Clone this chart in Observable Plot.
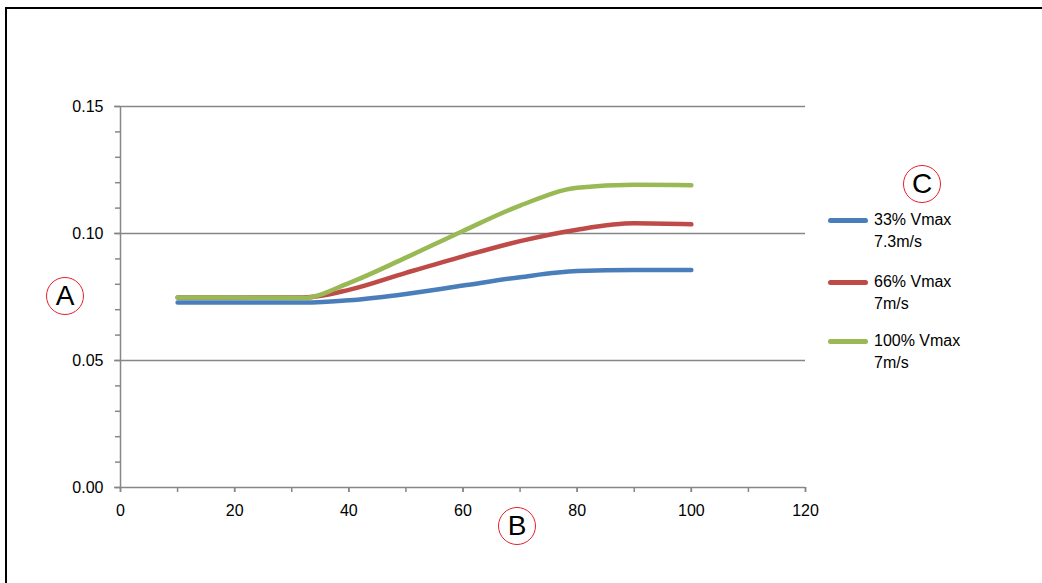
<!DOCTYPE html>
<html>
<head>
<meta charset="utf-8">
<script src="https://cdn.jsdelivr.net/npm/d3@7"></script>
<script src="https://cdn.jsdelivr.net/npm/@observablehq/plot@0.6"></script>
<style>
  html, body { margin: 0; padding: 0; background: #fff; }
  #wrap { position: relative; width: 1042px; height: 583px; overflow: hidden; font-family: "Liberation Sans", Arial, sans-serif; }
  #wrap svg { position: absolute; left: 0; top: 0; }
  .frameTop { position: absolute; left: 5px; top: 7px; width: 1037px; height: 2px; background: #000; }
  .frameLeft { position: absolute; left: 5px; top: 7px; width: 2px; height: 576px; background: #000; }
  .circ { position: absolute; width: 36px; height: 36px; border: 1.5px solid #e3212b; border-radius: 50%;
          font-size: 28px; line-height: 36px; text-align: center; color: #000; box-sizing: content-box; }
  .legend { position: absolute; left: 828px; top: 209px; font-size: 16px; color: #000; }
  .item { display: flex; align-items: flex-start; }
  .swatch { width: 40px; height: 5px; border-radius: 3px; margin-top: 9px; margin-right: 6px; }
  .lbl { line-height: 22px; }
</style>
</head>
<body>
<div id="wrap">
  <div class="frameTop"></div>
  <div class="frameLeft"></div>
</div>
<script>
// ---- data ----
const xValues = [10, 20, 32, 40, 50, 60, 70, 80, 90, 100];
const series = ["33% Vmax 7.3m/s", "66% Vmax 7m/s", "100% Vmax 7m/s"];
const legendLine1 = ["33% Vmax", "66% Vmax", "100% Vmax"];
const legendLine2 = ["7.3m/s", "7m/s", "7m/s"];
const colors = ["#4a7ebb", "#be4b48", "#98b954"];
const blueValues  = [0.0728, 0.0728, 0.0728, 0.0737, 0.0762, 0.0795, 0.0828, 0.0852, 0.0856, 0.0856];
const redValues   = [0.0748, 0.0748, 0.0748, 0.0778, 0.0845, 0.0910, 0.0970, 0.1015, 0.1040, 0.1036];
const greenValues = [0.0748, 0.0748, 0.0746, 0.0805, 0.0905, 0.1010, 0.1110, 0.1180, 0.1192, 0.1190];
const yMajorTicks = [0, 0.05, 0.10, 0.15];
const yMinorTicks = [0, 0.01, 0.02, 0.03, 0.04, 0.05, 0.06, 0.07, 0.08, 0.09, 0.10, 0.11, 0.12, 0.13, 0.14, 0.15];
const xMajorTicks = [0, 20, 40, 60, 80, 100, 120];
const xMinorTicks = [0, 10, 20, 30, 40, 50, 60, 70, 80, 90, 100, 110, 120];
const annotations = ["A", "B", "C"];

const allValues = [blueValues, redValues, greenValues];
const data = series.flatMap((s, i) => xValues.map((x, j) => ({series: s, x, y: allValues[i][j]})));

const grey = "#878787";
const chart = Plot.plot({
  width: 1042,
  height: 583,
  marginTop: 106,
  marginBottom: 96,
  marginLeft: 120,
  marginRight: 237,
  style: {fontFamily: "'Liberation Sans', Arial, sans-serif", fontSize: "16px", color: "#000", background: "transparent", overflow: "visible"},
  x: {domain: [0, 120], label: null},
  y: {domain: [0, 0.15], label: null},
  color: {domain: series, range: colors},
  marks: [
    Plot.gridY(yMajorTicks.slice(1), {stroke: grey, strokeOpacity: 1, strokeWidth: 1.5}),
    Plot.axisY({ticks: yMinorTicks, tickSize: 5, text: null, label: null, stroke: grey, strokeWidth: 1.5}),
    Plot.axisY({ticks: yMajorTicks, tickSize: 6, tickPadding: 11, fontSize: 16, tickFormat: d => d.toFixed(2), label: null, stroke: grey, strokeWidth: 1.5, fill: "#000"}),
    Plot.axisX({ticks: xMinorTicks, tickSize: 5, text: null, label: null, stroke: grey, strokeWidth: 1.5}),
    Plot.axisX({ticks: xMajorTicks, tickSize: 5, tickPadding: 12, fontSize: 16, tickFormat: d => String(d), label: null, stroke: grey, strokeWidth: 1.5, fill: "#000"}),
    Plot.ruleX([0], {stroke: grey, strokeWidth: 1.5}),
    Plot.ruleY([0], {stroke: grey, strokeWidth: 1.5}),
    Plot.line(data, {x: "x", y: "y", z: "series", stroke: "series", strokeWidth: 4.5, curve: "monotone-x", strokeLinecap: "round", strokeLinejoin: "round"})
  ]
});
const wrap = document.getElementById("wrap");
wrap.appendChild(chart);

// legend
const legend = document.createElement("div");
legend.className = "legend";
const gaps = [18, 15, 0];
series.forEach((s, i) => {
  const item = document.createElement("div");
  item.className = "item";
  item.style.marginBottom = gaps[i] + "px";
  const sw = document.createElement("div");
  sw.className = "swatch";
  sw.style.background = colors[i];
  const lbl = document.createElement("div");
  lbl.className = "lbl";
  lbl.innerHTML = legendLine1[i] + "<br>" + legendLine2[i];
  item.appendChild(sw);
  item.appendChild(lbl);
  legend.appendChild(item);
});
wrap.appendChild(legend);

// circled annotation letters
const annPos = [[46, 277], [498, 507], [903, 165]];
annotations.forEach((a, i) => {
  const c = document.createElement("div");
  c.className = "circ";
  c.textContent = a;
  c.style.left = annPos[i][0] + "px";
  c.style.top = annPos[i][1] + "px";
  wrap.appendChild(c);
});
</script>
</body>
</html>
